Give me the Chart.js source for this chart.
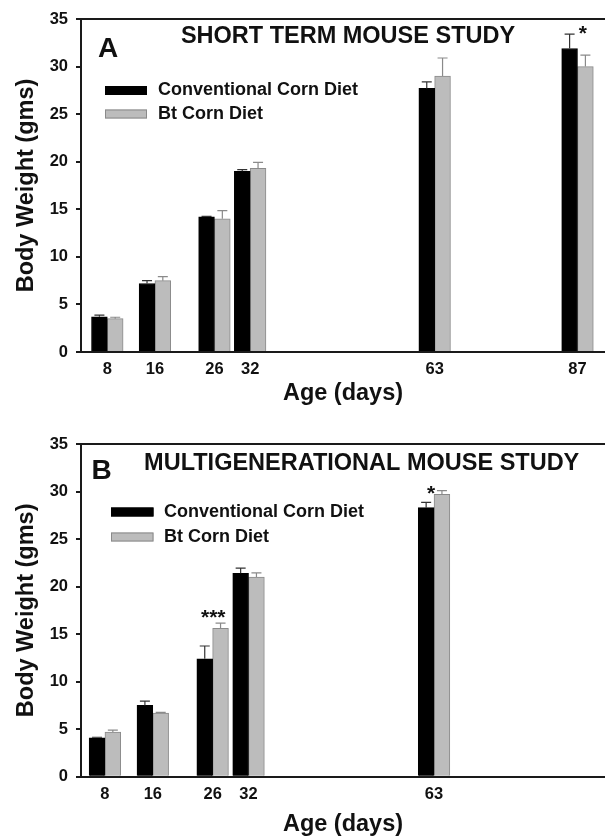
<!DOCTYPE html>
<html><head><meta charset="utf-8">
<script src="https://cdn.jsdelivr.net/npm/chart.js@4"></script>
<style>
html,body{margin:0;padding:0;background:#fff;width:605px;height:836px;overflow:hidden;}
canvas{position:absolute;left:0;}
#cA{top:0;} #cB{top:418px;}
</style></head><body>
<canvas id="cA" width="605" height="418"></canvas>
<canvas id="cB" width="605" height="418"></canvas>
<script>
// ---------- DATA ----------
const seriesNames = ['Conventional Corn Diet', 'Bt Corn Diet'];
const yTickValues = [0, 5, 10, 15, 20, 25, 30, 35];

// Panel A: short term study
const daysA = [8, 16, 26, 32, 63, 87];
const convA = [3.7, 7.2, 14.2, 19.0, 27.7, 31.9];
const convErrA = [0.18, 0.3, 0.05, 0.17, 0.7, 1.5];
const btA = [3.5, 7.5, 14.0, 19.3, 29.0, 30.0];
const btErrA = [0.15, 0.42, 0.85, 0.63, 1.9, 1.2];
const starsA = [{ day: 87.9, value: 34.0, text: '*' }];

// Panel B: multigenerational study
const daysB = [8, 16, 26, 32, 63];
const convB = [4.1, 7.5, 12.4, 21.4, 28.3];
const convErrB = [0.05, 0.45, 1.35, 0.55, 0.55];
const btB = [4.7, 6.7, 15.6, 21.0, 29.7];
const btErrB = [0.2, 0.07, 0.55, 0.45, 0.4];
const starsB = [{ day: 62.5, value: 30.4, text: '*' }, { day: 26.1, value: 17.3, text: '***' }];

// ---------- STYLE ----------
const FONT = "'Liberation Sans', Arial, Helvetica, sans-serif";
const INK = '#111';
const AXIS = '#1a1a1a';
Chart.defaults.font.family = FONT;
Chart.defaults.color = INK;

const errorBarPlugin = {
  id: 'errorBars',
  afterDatasetsDraw(chart) {
    const ctx = chart.ctx, y = chart.scales.y;
    chart.data.datasets.forEach((ds, di) => {
      const meta = chart.getDatasetMeta(di);
      meta.data.forEach((bar, i) => {
        const top = y.getPixelForValue(ds.data[i].y + ds.errors[i]);
        ctx.save();
        ctx.strokeStyle = ds.errorColor;
        ctx.lineWidth = 1.2;
        ctx.beginPath();
        ctx.moveTo(bar.x, bar.y);
        ctx.lineTo(bar.x, top);
        ctx.moveTo(bar.x - 5, top);
        ctx.lineTo(bar.x + 5, top);
        ctx.stroke();
        ctx.restore();
      });
    });
  }
};

const decorPlugin = {
  id: 'decor',
  afterDraw(chart, args, o) {
    const { ctx, chartArea: ca, scales } = chart;
    ctx.save();
    ctx.fillStyle = INK;
    ctx.textAlign = 'center';
    ctx.textBaseline = 'middle';
    ctx.font = `bold ${o.letterSize}px ${FONT}`;
    ctx.fillText(o.letter, ca.left + o.letterX, ca.top + o.letterY);
    ctx.font = `bold ${o.titleSize}px ${FONT}`;
    ctx.fillText(o.title, ca.left + o.titleX, ca.top + o.titleY);
    // legend
    const lg = o.legend;
    ctx.font = `bold ${lg.fontSize}px ${FONT}`;
    ctx.textAlign = 'left';
    chart.data.datasets.forEach((ds, i) => {
      const cy = ca.top + lg.y + i * lg.rowGap;
      const x0 = ca.left + lg.x;
      ctx.fillStyle = ds.backgroundColor;
      ctx.fillRect(x0, cy - lg.boxH / 2, lg.boxW, lg.boxH);
      ctx.strokeStyle = ds.borderColor;
      ctx.lineWidth = 1;
      ctx.strokeRect(x0 + 0.5, cy - lg.boxH / 2 + 0.5, lg.boxW - 1, lg.boxH - 1);
      ctx.fillStyle = INK;
      ctx.fillText(ds.label, x0 + lg.boxW + lg.gap, cy);
    });
    // significance stars
    ctx.textAlign = 'center';
    ctx.textBaseline = 'alphabetic';
    ctx.font = `bold ${o.starSize}px ${FONT}`;
    o.stars.forEach(s => {
      ctx.fillText(s.text, scales.x.getPixelForValue(s.day), scales.y.getPixelForValue(s.value) + 0.57 * o.starSize);
    });
    ctx.restore();
  }
};

function makeChart(id, days, conv, convErr, bt, btErr, cfg) {
  const tickFont = { size: 16.5, weight: 'bold', family: FONT };
  const titleFont = { size: 23.5, weight: 'bold', family: FONT, lineHeight: 1 };
  return new Chart(document.getElementById(id), {
    type: 'bar',
    data: {
      datasets: [
        { label: seriesNames[0], data: days.map((d, i) => ({ x: d, y: conv[i] })),
          backgroundColor: '#000', borderColor: '#000', borderWidth: 1,
          errors: convErr, errorColor: '#333', barThickness: 15.8, xAxisID: 'x', yAxisID: 'y' },
        { label: seriesNames[1], data: days.map((d, i) => ({ x: d, y: bt[i] })),
          backgroundColor: '#bcbcbc', borderColor: '#8a8a8a', borderWidth: 1,
          errors: btErr, errorColor: '#8a8a8a', barThickness: 15.8, xAxisID: 'x', yAxisID: 'y' }
      ]
    },
    options: {
      responsive: false,
      animation: false,
      layout: { padding: { top: cfg.padTop, left: 0, right: 0, bottom: 0 } },
      plugins: {
        legend: { display: false },
        tooltip: { enabled: false },
        decor: cfg.decor
      },
      scales: {
        x: {
          type: 'linear', position: 'bottom', min: cfg.xMin, max: cfg.xMax, offset: false,
          afterBuildTicks: s => { s.ticks = days.map(v => ({ value: v })); },
          afterFit: s => { s.height = cfg.xHeight; },
          grid: { display: false, drawTicks: false, offset: false },
          border: { display: true, color: AXIS, width: 2 },
          ticks: { font: tickFont, color: INK, padding: 8, autoSkip: false, maxRotation: 0 },
          title: { display: true, text: 'Age (days)', font: titleFont, color: INK, padding: { top: 0, bottom: cfg.xTitlePad } }
        },
        xTop: {
          type: 'linear', position: 'top', min: cfg.xMin, max: cfg.xMax, offset: false,
          afterFit: s => { s.height = 0; },
          ticks: { display: false },
          grid: { display: false, drawTicks: false },
          border: { display: true, color: AXIS, width: 2 }
        },
        y: {
          type: 'linear', min: 0, max: 35,
          afterBuildTicks: s => { s.ticks = yTickValues.map(v => ({ value: v })); },
          afterFit: s => { s.width = 81; },
          grid: { display: true, drawOnChartArea: false, drawTicks: true, tickLength: 5, lineWidth: 2, color: AXIS },
          border: { display: true, color: AXIS, width: 2 },
          ticks: { font: tickFont, color: INK, padding: 8 },
          title: { display: true, text: 'Body Weight (gms)', font: titleFont, color: INK, padding: { top: 15, bottom: 0 } }
        }
      }
    },
    plugins: [errorBarPlugin, decorPlugin]
  });
}

makeChart('cA', daysA, convA, convErrA, btA, btErrA, {
  padTop: 19, xHeight: 66, xTitlePad: 13, xMin: 3.58, xMax: 91.62,
  decor: {
    letter: 'A', letterSize: 28, letterX: 27, letterY: 30.5,
    title: 'SHORT TERM MOUSE STUDY', titleSize: 23.5, titleX: 267, titleY: 17.5,
    legend: { x: 24, y: 71.5, rowGap: 23.5, boxW: 42, boxH: 9, gap: 11, fontSize: 18 },
    starSize: 21, stars: starsA
  }
});

makeChart('cB', daysB, convB, convErrB, btB, btErrB, {
  padTop: 26, xHeight: 59.3, xTitlePad: 0, xMin: 4.0, xMax: 91.57,
  decor: {
    letter: 'B', letterSize: 28, letterX: 20.7, letterY: 27.5,
    title: 'MULTIGENERATIONAL MOUSE STUDY', titleSize: 23.5, titleX: 280.7, titleY: 19.5,
    legend: { x: 30, y: 68, rowGap: 25, boxW: 42.5, boxH: 9, gap: 10.5, fontSize: 18 },
    starSize: 21, stars: starsB
  }
});
</script>
</body></html>
